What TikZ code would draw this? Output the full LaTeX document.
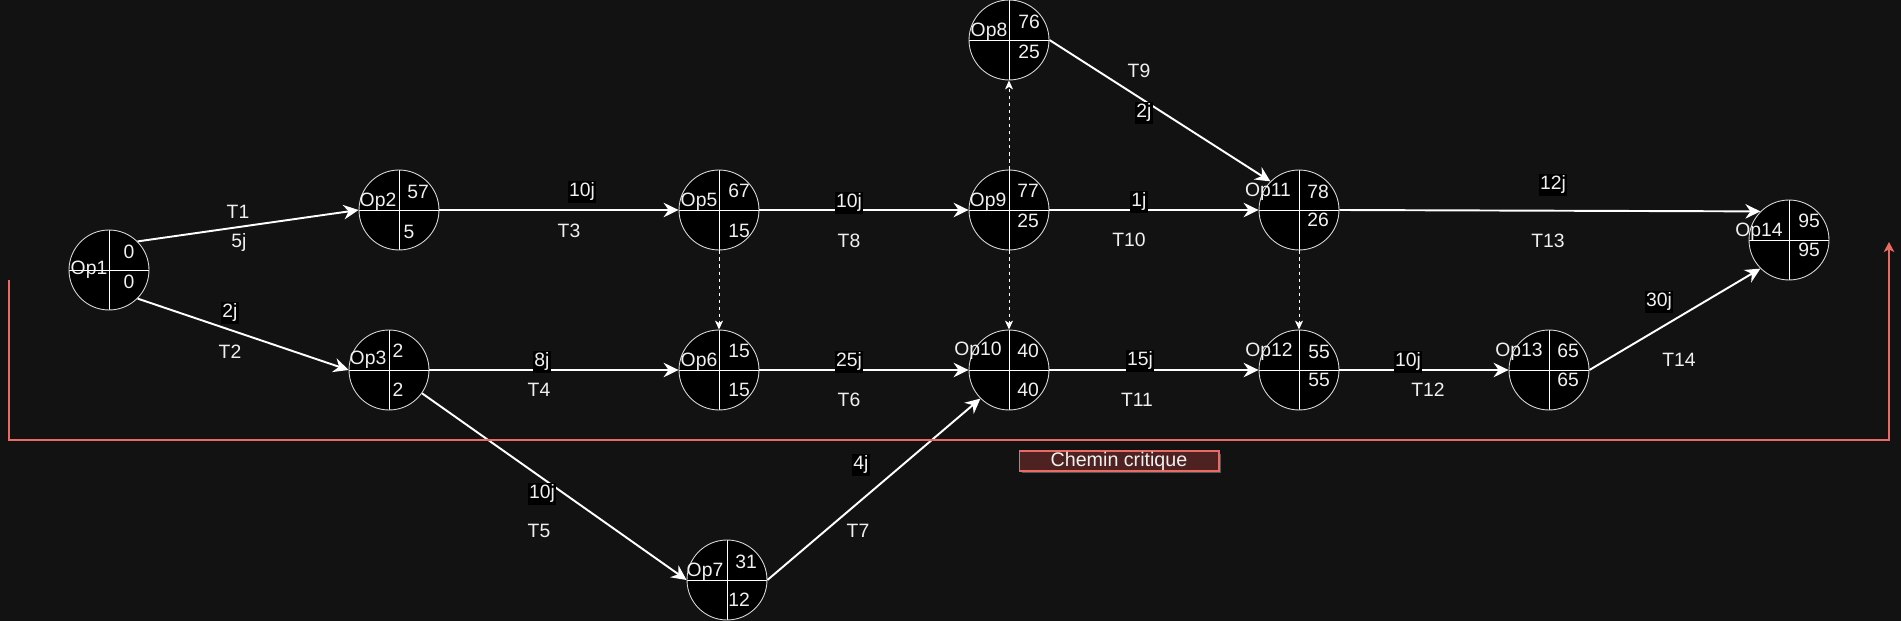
\documentclass[tikz,border=0pt]{standalone}
\usepackage{fontspec}
\setmainfont{Liberation Sans}
\usepackage{tikz}
\usetikzlibrary{arrows.meta}
\usetikzlibrary{shadows}

\definecolor{fond}{RGB}{18,18,18}
\definecolor{rouge}{RGB}{234,107,102}
\definecolor{rougefonce}{RGB}{77,34,32}
\definecolor{texte}{RGB}{240,240,240}

\tikzset{
	op/.style={circle, draw=white!85!black, fill=black, line width=0.5pt,
		minimum size=1.6cm, inner sep=0pt,
		path picture={\draw[white, line width=0.5pt]
			(path picture bounding box.north)--(path picture bounding box.south)
			(path picture bounding box.west)--(path picture bounding box.east);}},
	txt/.style={text=texte, inner sep=0pt, font=\fontsize{11}{13}\selectfont},
	duree/.style={txt, fill=black, inner xsep=0.6pt, inner ysep=1.2pt},
	fleche/.style={draw=white, line width=1.1pt,
		-{Stealth[length=0.3cm, width=0.29cm, inset=0.1cm]}},
	pointille/.style={draw=white, line width=0.5pt, dash pattern=on 2pt off 2pt,
		-{Stealth[length=0.18cm, width=0.16cm, inset=0.05cm]}},
	critique/.style={draw=rouge, line width=0.6pt,
		-{Stealth[length=0.2cm, width=0.21cm, inset=0.05cm]}},
	legende/.style={draw=rouge, fill=rougefonce, text=texte, line width=0.6pt,
		minimum width=4cm, minimum height=0.4cm, inner sep=0pt,
		font=\fontsize{11.2}{13}\selectfont,
		drop shadow={shadow xshift=0.05cm, shadow yshift=-0.05cm, fill=gray!70, opacity=0.45}}
}

\begin{document}
\begin{tikzpicture}[x=0.02cm, y=-0.02cm]
			\useasboundingbox (0,0) rectangle (1901,621);
			\fill[fond] (0,0) rectangle (1901,621);
			
			% etapes
			\node[op] (op1) at (109,270){};
			\node[op] (op2) at (399,210){};
			\node[op] (op3) at (389,370){};
			\node[op] (op5) at (719,210){};
			\node[op] (op6) at (719,370){};
			\node[op] (op7) at (727,580){};
			\node[op] (op8) at (1009,40){};
			\node[op] (op9) at (1009,210){};
			\node[op] (op10) at (1009,370){};
			\node[op] (op11) at (1299,210){};
			\node[op] (op12) at (1299,370){};
			\node[op] (op13) at (1549,370){};
			\node[op] (op14) at (1789,240){};
			
			\node[txt] (op1n) at (89,270){Op1};
			\node[txt] (op1h) at (129,252){0};
			\node[txt] (op1b) at (129,282){0};
			\node[txt] (op2n) at (378,202){Op2};
			\node[txt] (op2h) at (418,192){57};
			\node[txt] (op2b) at (409,232){5};
			\node[txt] (op3n) at (368,360){Op3};
			\node[txt] (op3h) at (398,351){2};
			\node[txt] (op3b) at (398,390){2};
			\node[txt] (op5n) at (699,202){Op5};
			\node[txt] (op5h) at (739,191){67};
			\node[txt] (op5b) at (739,231){15};
			\node[txt] (op6n) at (699,362){Op6};
			\node[txt] (op6h) at (739,351){15};
			\node[txt] (op6b) at (739,390){15};
			\node[txt] (op7n) at (705,572){Op7};
			\node[txt] (op7h) at (746,562){31};
			\node[txt] (op7b) at (739,600){12};
			\node[txt] (op8n) at (989,32){Op8};
			\node[txt] (op8h) at (1029,22){76};
			\node[txt] (op8b) at (1029,52){25};
			\node[txt] (op9n) at (988,202){Op9};
			\node[txt] (op9h) at (1028,191){77};
			\node[txt] (op9b) at (1028,221){25};
			\node[txt] (op10n) at (978,351){Op10};
			\node[txt] (op10h) at (1028,351){40};
			\node[txt] (op10b) at (1028,390){40};
			\node[txt] (op11n) at (1268,192){Op11};
			\node[txt] (op11h) at (1318,192){78};
			\node[txt] (op11b) at (1318,220){26};
			\node[txt] (op12n) at (1269,352){Op12};
			\node[txt] (op12h) at (1319,352){55};
			\node[txt] (op12b) at (1319,380){55};
			\node[txt] (op13n) at (1519,352){Op13};
			\node[txt] (op13h) at (1568,351){65};
			\node[txt] (op13b) at (1568,380){65};
			\node[txt] (op14n) at (1759,232){Op14};
			\node[txt] (op14h) at (1809,221){95};
			\node[txt] (op14b) at (1809,250){95};
			
			% taches
			\draw[fleche] (op1.north east)--(op2.west);
			\draw[fleche] (op1.south east)--(op3.west);
			\draw[fleche] (op2.east)--(op5.west);
			\draw[fleche] (op3.east)--(op6.west);
			\draw[fleche] (op3)--(op7.west);
			\draw[fleche] (op6.east)--(op10.west);
			\draw[fleche] (op7.east)--(op10.south west);
			\draw[fleche] (op5.east)--(op9.west);
			\draw[fleche] (op8.east)--(op11.north west);
			\draw[fleche] (op9.east)--(op11.west);
			\draw[fleche] (op10.east)--(op12.west);
			\draw[fleche] (op12.east)--(op13.west);
			\draw[fleche] (op11.east)--(op14.north west);
			\draw[fleche] (op13.east)--(op14.south west);
			
			\draw[pointille] (op5.south)--(op6.north);
			\draw[pointille] (op9.south)--(op10.north);
			\draw[pointille] (op9.north)--(op8.south);
			\draw[pointille] (op11.south)--(op12.north);
			
			\node[txt] (t1) at (238,212){T1};
			\node[txt] (d1) at (239,243){5j};
			\node[duree] (d2) at (230,313){2j};
			\node[txt] (t2) at (230,352){T2};
			\node[duree] (d3) at (582,192){10j};
			\node[txt] (t3) at (569,231){T3};
			\node[duree] (d4) at (542,362){8j};
			\node[txt] (t4) at (539,390){T4};
			\node[duree] (d5) at (542,494){10j};
			\node[txt] (t5) at (539,531){T5};
			\node[duree] (d6) at (849,362){25j};
			\node[txt] (t6) at (849,400){T6};
			\node[duree] (d7) at (861,465){4j};
			\node[txt] (t7) at (858,531){T7};
			\node[duree] (d8) at (849,203){10j};
			\node[txt] (t8) at (849,241){T8};
			\node[txt] (t9) at (1139,71){T9};
			\node[duree] (d9) at (1144,113){2j};
			\node[duree] (d10) at (1139,202){1j};
			\node[txt] (t10) at (1129,240){T10};
			\node[duree] (d11) at (1140,361){15j};
			\node[txt] (t11) at (1137,400){T11};
			\node[duree] (d12) at (1408,362){10j};
			\node[txt] (t12) at (1428,390){T12};
			\node[duree] (d13) at (1553,185){12j};
			\node[txt] (t13) at (1548,241){T13};
			\node[duree] (d14) at (1659,302){30j};
			\node[txt] (t14) at (1679,360){T14};
			
			% chemin critique
			\coordinate (cc1) at (9,280);
			\coordinate (cc2) at (9,440);
			\coordinate (cc3) at (1889,440);
			\coordinate (cc4) at (1889,242);
			\draw[critique] (cc1)--(cc2)--(cc3)--(cc4);
			\node[legende] (leg) at (1119,461){Chemin critique};
		\end{tikzpicture}
\end{document}
